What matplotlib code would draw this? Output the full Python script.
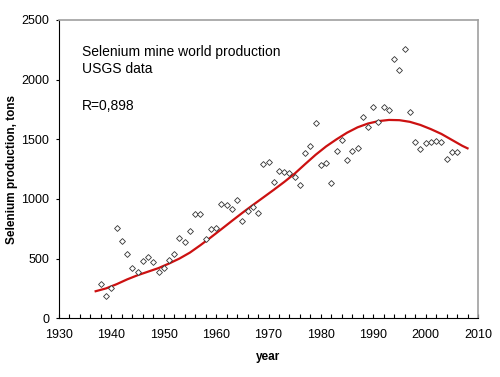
import matplotlib.pyplot as plt
from matplotlib.ticker import MultipleLocator

plt.rcParams['font.family'] = ['Liberation Sans', 'DejaVu Sans']

# Selenium mine world production (USGS), tons
years = list(range(1938, 2007))
production = [283, 190, 249, 752, 646, 534, 422, 389, 478, 509,
              467, 389, 417, 489, 534, 669, 640, 733, 875, 875,
              663, 747, 758, 954, 948, 914, 987, 816, 900, 929,
              884, 1295, 1312, 1144, 1233, 1228, 1217, 1183, 1116, 1384,
              1443, 1633, 1287, 1298, 1130, 1404, 1493, 1328, 1404, 1426,
              1684, 1605, 1773, 1644, 1773, 1748, 2171, 2078, 2257, 1726,
              1477, 1415, 1466, 1477, 1482, 1477, 1334, 1395, 1395]

# trend curve
trend_years = [1937, 1939, 1941, 1943, 1945, 1947, 1949, 1951, 1953, 1955,
               1957, 1959, 1961, 1963, 1965, 1967, 1969, 1971, 1973, 1975,
               1977, 1979, 1981, 1983, 1985, 1987, 1989, 1991, 1993, 1995,
               1997, 1999, 2001, 2003, 2005, 2007, 2008]
trend_values = [226, 250, 285, 325, 360, 390, 420, 458, 500, 550,
                612, 678, 746, 815, 883, 948, 1012, 1076, 1142, 1212,
                1292, 1370, 1440, 1500, 1555, 1600, 1632, 1652, 1662, 1660,
                1646, 1620, 1585, 1545, 1495, 1445, 1424]

fig = plt.figure(figsize=(5, 3.77), dpi=100)
ax = fig.add_axes([0.118, 0.156, 0.838, 0.791])

ax.plot(trend_years, trend_values, color='#cc1111', lw=1.6, zorder=2,
        solid_joinstyle='round')
ax.plot(years, production, ls='none', marker='D', ms=3.0, mfc='white',
        mec='#333333', mew=0.6, zorder=3)

ax.set_xlim(1930, 2010)
ax.set_ylim(0, 2500)
ax.xaxis.set_major_locator(MultipleLocator(10))
ax.xaxis.set_minor_locator(MultipleLocator(2))
ax.yaxis.set_major_locator(MultipleLocator(500))
ax.tick_params(axis='x', which='both', direction='in', length=3, width=0.8,
               labelsize=9, pad=8)
ax.tick_params(axis='y', direction='out', length=2, width=0.8, labelsize=9, pad=5)

for s in ['left', 'bottom']:
    ax.spines[s].set_color('black')
    ax.spines[s].set_linewidth(0.8)
for s in ['top', 'right']:
    ax.spines[s].set_color('#a0a0a0')
    ax.spines[s].set_linewidth(1.2)

ax.set_xlabel('year', fontsize=8.5, fontweight='bold', labelpad=7)
ax.set_ylabel('Selenium production, tons', fontsize=8.5, fontweight='bold', labelpad=2)

ax.text(0.055, 0.915, 'Selenium mine world production\nUSGS data', transform=ax.transAxes,
        fontsize=10, va='top', linespacing=1.2)
ax.text(0.055, 0.735, 'R=0,898', transform=ax.transAxes, fontsize=10, va='top')

fig.savefig('out.png', dpi=100)
